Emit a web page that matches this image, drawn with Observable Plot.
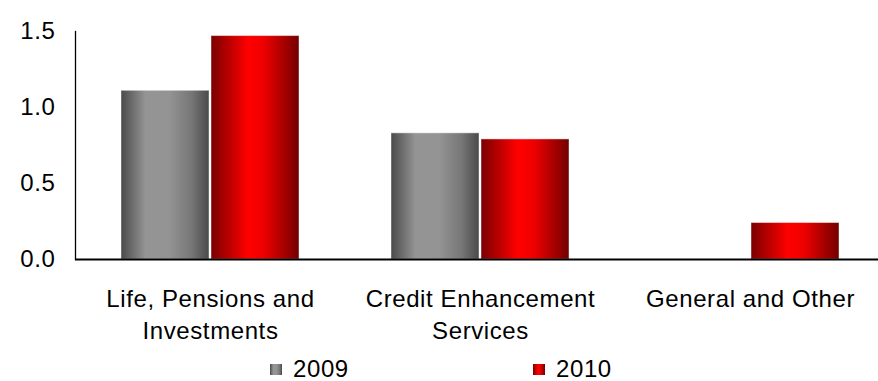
<!DOCTYPE html>
<html><head><meta charset="utf-8">
<script src="https://cdn.jsdelivr.net/npm/d3@7"></script>
<script src="https://cdn.jsdelivr.net/npm/@observablehq/plot@0.6"></script>
<style>
body{margin:0;background:#fff;font-family:"Liberation Sans",Arial,sans-serif;}
#legend{height:24px;padding-top:4px;font-size:24px;letter-spacing:0.6px;color:#000;display:flex;padding-left:270px;}
.item{width:263px;height:24px;display:flex;align-items:center;line-height:24px;}
.sw{width:12px;height:11px;margin-right:11px;flex:none;}
</style></head><body>
<div id="chart"></div>
<div id="legend"></div>
<script>
const categories = ["Life, Pensions and Investments", "Credit Enhancement Services", "General and Other"];
const categoryLabels = ["Life, Pensions and\nInvestments", "Credit Enhancement\nServices", "General and Other"];
const years = ["2009", "2010"];
const values2009 = [1.11, 0.83, null];
const values2010 = [1.47, 0.79, 0.24];
const yTicks = [0, 0.5, 1.0, 1.5];
const gradientStops = {
  "2009": [[0, "#4a4a4a"], [0.28, "#959595"], [0.55, "#939393"], [0.8, "#777777"], [1, "#4a4a4a"]],
  "2010": [[0, "#7a0000"], [0.42, "#ff0000"], [0.6, "#ee0000"], [1, "#720000"]]
};

const data = categories.flatMap((c, i) => [
  {category: c, year: years[0], value: values2009[i]},
  {category: c, year: years[1], value: values2010[i]}
]).filter(d => d.value != null);

const chart = Plot.plot({
  width: 878, height: 353,
  marginLeft: 74, marginRight: -8, marginTop: 31, marginBottom: 94,
  style: "font-family:'Liberation Sans',Arial,sans-serif;font-size:24px;color:#000;letter-spacing:0.6px;background:#fff;overflow:visible;",
  fx: {domain: categories, padding: 0, label: null},
  x: {domain: years, paddingInner: 0.022, paddingOuter: 0.5, axis: null},
  y: {domain: [0, 1.5], label: null},
  color: {domain: years, range: years.map(y => `url(#grad${y})`)},
  marks: [
    Plot.barY(data, {fx: "category", x: "year", y: "value", fill: "year", stroke: "#ffffff", strokeOpacity: 0.45, strokeWidth: 1}),
    Plot.ruleY([0], {stroke: "#000", strokeWidth: 2}),
    Plot.frame({anchor: "left", facetAnchor: "left", stroke: "#000", strokeWidth: 1.3}),
    Plot.axisY({ticks: yTicks, tickFormat: d => d.toFixed(1), tickSize: 0, tickPadding: 20, fontSize: 24, label: null}),
    Plot.axisFx({anchor: "bottom", tickSize: 0, tickPadding: 24, fontSize: 24, lineHeight: 1.35, label: null,
      tickFormat: c => categoryLabels[categories.indexOf(c)]})
  ]
});

const defs = d3.select(chart).insert("defs", ":first-child");
for (const y of years) {
  const g = defs.append("linearGradient").attr("id", `grad${y}`).attr("x1", "0").attr("x2", "1").attr("y1", "0").attr("y2", "0");
  for (const [o, c] of gradientStops[y]) g.append("stop").attr("offset", o).attr("stop-color", c);
}
document.getElementById("chart").appendChild(chart);

const legend = d3.select("#legend");
for (const y of years) {
  const item = legend.append("div").attr("class", "item");
  item.append("span").attr("class", "sw")
    .style("background", `linear-gradient(to right, ${gradientStops[y].map(([o, c]) => `${c} ${o * 100}%`).join(", ")})`);
  item.append("span").text(y);
}
</script>
</body></html>
